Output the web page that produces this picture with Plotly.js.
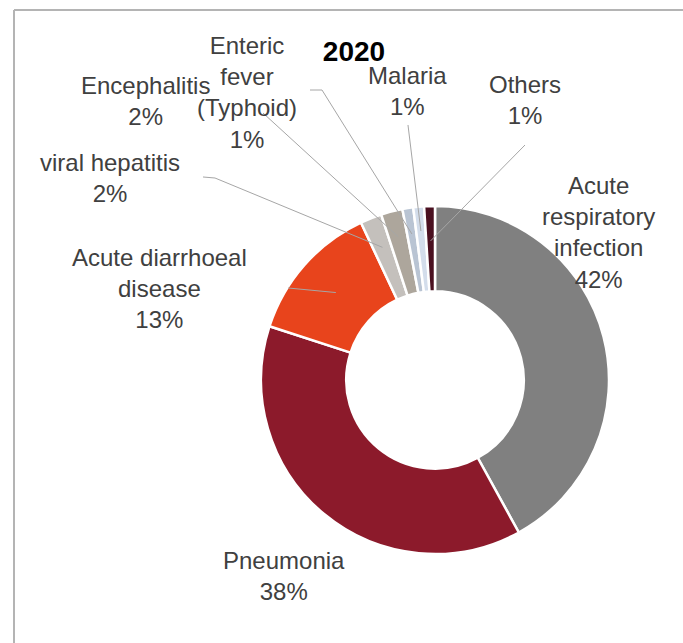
<!DOCTYPE html>
<html>
<head>
<meta charset="utf-8">
<script src="https://cdn.plot.ly/plotly-3.0.1.min.js"></script>
<style>html,body{margin:0;padding:0;background:#fff;}#chart{width:683px;height:643px;}</style>
</head>
<body>
<div id="chart"></div>
<script>
// ---- data ----
const categories = ["Acute respiratory infection", "Pneumonia", "Acute diarrhoeal disease", "viral hepatitis", "Encephalitis", "Enteric fever (Typhoid)", "Malaria", "Others"];
const values = [42, 38, 13, 2, 2, 1, 1, 1];
const chartTitle = "2020";

// ---- styling / layout ----
const colors = ["#808080", "#8C1A2B", "#E8441C", "#C4C0BC", "#ADA69C", "#B9C4D3", "#D3DDEB", "#4A1020"];
const W = 683, H = 643;
const cx = 435, cy = 380, R = 174;           // donut centre & radius (px)
const wrapped = {
  "Acute respiratory infection": "Acute<br>respiratory<br>infection",
  "Acute diarrhoeal disease": "Acute diarrhoeal<br>disease",
  "Enteric fever (Typhoid)": "Enteric<br>fever<br>(Typhoid)"
};
// label centres (px) and leader-line tails (px), per category index
const labelPos = [[598, 233], [284, 576], [159, 288], [110, 178], [145, 101], [247, 92], [407, 91], [525, 100]];
const leaders = [null, null, [[288, 288]], [[203, 177], [215, 178]], [[263, 113]], [[310, 90], [322, 90]], [[408, 125]], [[525, 145]]];
const tipFrac = [0, 0, 0.76, 0.82, 0.85, 0.85, 0.86, 0.8];

const total = values.reduce((a, b) => a + b, 0);
const px = x => x / W, py = y => 1 - y / H;

const trace = {
  type: "pie",
  labels: categories,
  values: values,
  sort: false,
  direction: "clockwise",
  rotation: 0,
  hole: 0.51,
  textinfo: "none",
  hoverinfo: "none",
  showlegend: false,
  marker: {colors: colors, line: {color: "#ffffff", width: 2.5}},
  domain: {x: [px(cx - R), px(cx + R)], y: [py(cy + R), py(cy - R)]}
};

const annotations = [];
const shapes = [];
let cum = 0;
categories.forEach((c, i) => {
  const pct = Math.round(values[i] / total * 100) + "%";
  const mid = (cum + values[i] / 2) / total * 2 * Math.PI;
  cum += values[i];
  annotations.push({
    xref: "paper", yref: "paper",
    x: px(labelPos[i][0]), y: py(labelPos[i][1]),
    xanchor: "center", yanchor: "middle",
    text: (wrapped[c] || c) + "<br>" + pct,
    showarrow: false,
    font: {family: "Liberation Sans, Arial, sans-serif", size: 24, color: "#404040"}
  });
  if (leaders[i]) {
    const r = tipFrac[i] * R;
    const tx = cx + r * Math.sin(mid), ty = cy - r * Math.cos(mid);
    const pts = leaders[i].concat([[tx, ty]]);
    const path = pts.map((p, k) => (k ? "L" : "M") + px(p[0]).toFixed(5) + "," + py(p[1]).toFixed(5)).join(" ");
    shapes.push({type: "path", xref: "paper", yref: "paper", path: path, line: {color: "#A6A6A6", width: 1}});
  }
});
// outer frame
shapes.push({type: "line", xref: "paper", yref: "paper", x0: px(14), x1: px(14), y0: py(10), y1: 0, line: {color: "#B4B4B4", width: 2}});
shapes.push({type: "line", xref: "paper", yref: "paper", x0: px(14), x1: 1, y0: py(10), y1: py(10), line: {color: "#B4B4B4", width: 2}});

const layout = {
  width: W, height: H,
  margin: {l: 0, r: 0, t: 0, b: 0},
  paper_bgcolor: "#ffffff",
  title: {
    text: "<b>" + chartTitle + "</b>",
    x: px(354), y: py(51), xanchor: "center", yanchor: "middle", xref: "paper", yref: "paper",
    font: {family: "Liberation Sans, Arial, sans-serif", size: 28, color: "#000000"}
  },
  annotations: annotations,
  shapes: shapes
};

Plotly.newPlot("chart", [trace], layout, {displayModeBar: false, staticPlot: true});
</script>
</body>
</html>
